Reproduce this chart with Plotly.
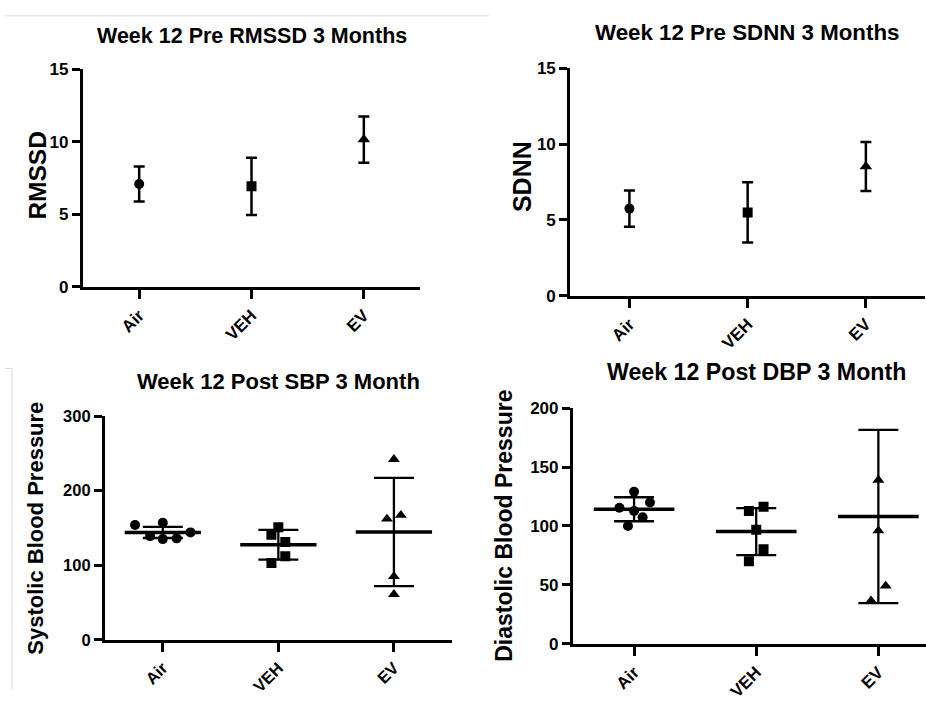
import plotly.graph_objects as go

# ---- data -------------------------------------------------------------
groups = ["Air", "VEH", "EV"]
symbols = ["circle", "square", "triangle-up"]

# Week 12 pre (mean +/- SD)
rmssd_mean = [7.09, 6.93, 10.15]
rmssd_sd = [1.2, 1.97, 1.6]
sdnn_mean = [5.74, 5.49, 8.52]
sdnn_sd = [1.2, 1.99, 1.62]

# Week 12 post systolic blood pressure, individual animals
sbp_air = [154, 157, 144, 139, 135, 136]
sbp_veh = [151, 141, 131, 112, 103]
sbp_ev = [242, 162, 167, 85, 61]
sbp_mean = [144, 127.5, 144.5]
sbp_sd = [7.5, 19.9, 72.5]

# Week 12 post diastolic blood pressure, individual animals
dbp_air = [129, 120, 115.5, 112.7, 107.3, 100]
dbp_veh = [112.7, 116.4, 96.8, 80.3, 70.1]
dbp_ev = [139, 96, 49, 36.5]
dbp_mean = [114.2, 95.2, 108]
dbp_sd = [10.2, 20, 73.6]

# horizontal spread (category units) keeping overlapping dots visible
sbp_spread = [[-0.24, 0, 0.24, -0.11, 0, 0.12],
              [0, -0.06, 0.06, 0.06, -0.06],
              [0, -0.06, 0.06, 0, 0]]
dbp_spread = [[0, 0.13, -0.12, 0, 0.07, -0.05],
              [-0.06, 0.06, 0, 0.06, -0.06],
              [0, 0, 0.06, -0.06]]

# ---- styling ----------------------------------------------------------
W, H = 926, 701
FONT = "Liberation Sans, Arial, sans-serif"
BLACK = "#000000"


def px(x):
    return x / W


def py(y):
    return 1 - y / H


def axes(k):
    sfx = "" if k == 1 else str(k)
    return dict(xaxis=f"x{sfx}", yaxis=f"y{sfx}")


fig = go.Figure()

# ---- top panels: mean with SD bars -----------------------------------
for k, (means, sds) in enumerate([(rmssd_mean, rmssd_sd), (sdnn_mean, sdnn_sd)], start=1):
    fig.add_trace(go.Scatter(
        x=list(range(len(groups))), y=means,
        mode="markers",
        marker=dict(size=1, color="rgba(0,0,0,0)"),
        error_y=dict(type="data", array=sds, visible=True,
                     color=BLACK, thickness=2.5, width=5.5),
        showlegend=False, hoverinfo="skip", **axes(k),
    ))
    for g in range(len(groups)):
        fig.add_trace(go.Scatter(
            x=[g], y=[means[g]],
            mode="markers",
            marker=dict(symbol=symbols[g], size=10 if g < 2 else 11,
                        color=BLACK, line=dict(width=0)),
            showlegend=False, hoverinfo="skip", **axes(k),
        ))

# ---- bottom panels: individual points, mean line and SD bars ----------
bottom = [
    ([sbp_air, sbp_veh, sbp_ev], sbp_spread, sbp_mean, sbp_sd, 3),
    ([dbp_air, dbp_veh, dbp_ev], dbp_spread, dbp_mean, dbp_sd, 4),
]
for series, spread, means, sds, k in bottom:
    fig.add_trace(go.Scatter(
        x=list(range(len(groups))), y=means,
        mode="markers",
        marker=dict(size=1, color="rgba(0,0,0,0)"),
        error_x=dict(type="constant", value=0.33, visible=True,
                     color=BLACK, thickness=3.5, width=0),
        error_y=dict(type="data", array=sds, visible=True,
                     color=BLACK, thickness=2.3, width=20),
        showlegend=False, hoverinfo="skip", **axes(k),
    ))
    for g, (vals, offs) in enumerate(zip(series, spread)):
        fig.add_trace(go.Scatter(
            x=[g + o for o in offs], y=vals,
            mode="markers",
            marker=dict(symbol=symbols[g], size=10 if g < 2 else 10.5,
                        color=BLACK, line=dict(width=0)),
            showlegend=False, hoverinfo="skip", **axes(k),
        ))

# ---- axes -------------------------------------------------------------
panels = {
    1: dict(x=(83, 420), y=(62, 286), xr=[-0.5, 2.5], yr=[0, 15], dt=5, fs=17),
    2: dict(x=(570.3, 925), y=(61, 295), xr=[-0.5, 2.5], yr=[0, 15], dt=5, fs=17),
    3: dict(x=(105, 451.7), y=(419, 649.3), xr=[-0.5, 2.5], yr=[0, 300], dt=100, fs=16.5),
    4: dict(x=(573, 926), y=(411, 653.3), xr=[-0.5, 2.39], yr=[0, 200], dt=50, fs=17),
}

axis_common = dict(showline=True, linewidth=3.2, linecolor=BLACK,
                   showgrid=False, zeroline=False, ticks="outside",
                   tickwidth=2.6, tickcolor=BLACK)

layout = dict(width=W, height=H, margin=dict(l=0, r=0, t=0, b=0),
              paper_bgcolor="white", plot_bgcolor="white")

for k, p in panels.items():
    sfx = "" if k == 1 else str(k)
    tf = dict(family=FONT, size=p["fs"], color=BLACK, weight="bold")
    layout[f"xaxis{sfx}"] = dict(
        axis_common, domain=[px(p["x"][0]), min(1.0, px(p["x"][1]))],
        range=p["xr"], anchor=f"y{sfx}", ticklen=9,
        tickmode="array", tickvals=list(range(len(groups))), ticktext=groups,
        tickangle=-45, tickfont=tf,
    )
    layout[f"yaxis{sfx}"] = dict(
        axis_common, domain=[py(p["y"][1]), py(p["y"][0])],
        range=p["yr"], anchor=f"x{sfx}", ticklen=8,
        tick0=0, dtick=p["dt"], tickfont=tf,
    )

fig.update_layout(**layout)

# ---- titles -----------------------------------------------------------
titles = [
    ("Week 12 Pre RMSSD 3 Months", 252, 28, 21.5),
    ("Week 12 Pre SDNN 3 Months", 747, 24, 22.3),
    ("Week 12 Post SBP 3 Month", 278, 383, 22),
    ("Week 12 Post DBP 3 Month", 756, 374, 23.2),
]
for text, x, y, size in titles:
    fig.add_annotation(text=text, x=px(x), y=py(y), xref="paper", yref="paper",
                       xanchor="center", yanchor="middle", showarrow=False,
                       font=dict(family=FONT, size=size, color=BLACK, weight="bold"))

ytitles = [
    ("RMSSD", 37.5, 172, 24.5),
    ("SDNN", 522, 173, 25),
    ("Systolic Blood Pressure", 36, 535, 22),
    ("Diastolic Blood Pressure", 504, 532, 23),
]
for text, x, y, size in ytitles:
    fig.add_annotation(text=text, x=px(x), y=py(y), xref="paper", yref="paper",
                       xanchor="center", yanchor="middle", showarrow=False,
                       textangle=-90,
                       font=dict(family=FONT, size=size, color=BLACK, weight="bold"))

# thin frame edges around the panels
edge = dict(color="#dcdcdc", width=1)
fig.add_shape(type="line", xref="paper", yref="paper",
              x0=px(5), x1=px(489), y0=py(7), y1=py(7), line=edge)
fig.add_shape(type="line", xref="paper", yref="paper",
              x0=px(5), x1=px(12), y0=py(370), y1=py(370), line=edge)
fig.add_shape(type="line", xref="paper", yref="paper",
              x0=px(12), x1=px(12), y0=py(370), y1=py(701), line=edge)

fig.write_html("out.html")
